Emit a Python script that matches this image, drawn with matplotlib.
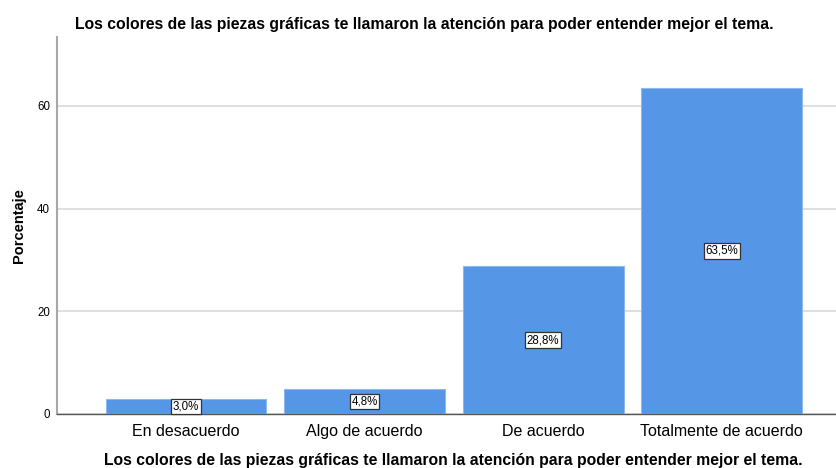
import matplotlib
matplotlib.use("Agg")
import matplotlib.pyplot as plt

categories = ["En desacuerdo", "Algo de acuerdo", "De acuerdo", "Totalmente de acuerdo"]
values = [3.0, 4.8, 28.8, 63.5]
labels = ["3,0%", "4,8%", "28,8%", "63,5%"]
yticks = [0, 20, 40, 60]
title = "Los colores de las piezas gráficas te llamaron la atención para poder entender mejor el tema."

plt.rcParams['font.family'] = ['Liberation Sans', 'DejaVu Sans']

fig = plt.figure(figsize=(8.37, 4.68), dpi=100)
ax = fig.add_axes([57/837, 54/468, 779/837, 377/468])

x = list(range(len(categories)))
ax.bar(x, values, width=0.9, color="#5596e6", edgecolor="#8fb8ee", linewidth=0.8, zorder=3)
for xi, v, lab in zip(x, values, labels):
    ax.text(xi, v/2, lab, ha="center", va="center", fontsize=8.3, zorder=4,
            bbox=dict(boxstyle="square,pad=0.15", facecolor="white", edgecolor="#333333", linewidth=0.9))

ax.set_xlim(-0.723, 3.64)
ax.set_ylim(0, 73.4)
ax.set_yticks(yticks)
ax.set_yticklabels([str(t) for t in yticks], fontsize=8.3)
ax.set_xticks(x)
ax.set_xticklabels(categories, fontsize=11.5)
ax.tick_params(axis="y", length=0, pad=5)
ax.tick_params(axis="x", length=0, pad=7)
ax.yaxis.grid(True, color="#d9d9d9", linewidth=1.2, zorder=0)
ax.set_axisbelow(True)
for s in ["top", "right"]:
    ax.spines[s].set_visible(False)
ax.spines["left"].set_color("#a8a8a8")
ax.spines["left"].set_linewidth(1.5)
ax.spines["bottom"].set_color("#555555")
ax.spines["bottom"].set_linewidth(1.0)

ax.set_ylabel("Porcentaje", fontsize=10.5, fontweight="bold", labelpad=8)
fig.text(453/837, 1-460/468, title, ha="center", va="center", fontsize=11.3, fontweight="bold")
fig.text(424/837, 1-24/468, title, ha="center", va="center", fontsize=11.3, fontweight="bold")

fig.savefig("out.png", dpi=100)
